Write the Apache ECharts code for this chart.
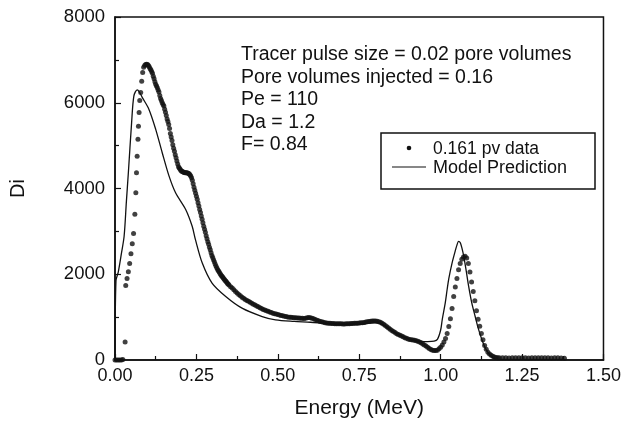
<!DOCTYPE html>
<html>
<head>
<meta charset="utf-8">
<script src="https://cdn.jsdelivr.net/npm/echarts@6/dist/echarts.min.js"></script>
<style>
html,body{margin:0;padding:0;background:#fff;}
#chart{width:624px;height:437px;}
</style>
</head>
<body>
<div id="chart"></div>
<script>
// Measured data (dots): energy (MeV)
const dataEnergy = [
0.000,0.005,0.010,0.015,0.020,0.024,0.031,0.033,0.037,0.041,0.045,0.049,0.053,0.057,0.061,0.064,0.066,0.068,0.0705,0.072,0.074,0.076,0.079,0.082,0.085,0.088,0.091,0.094,0.097,0.100,
0.1025,0.105,0.1075,0.110,0.1125,0.115,0.1175,0.120,0.1225,0.125,0.1275,0.130,0.1325,0.135,0.1375,0.140,0.1425,0.145,0.1475,0.150,
0.1525,0.155,0.1575,0.160,0.1625,0.165,0.1675,0.170,0.1725,0.175,0.1775,0.180,0.1825,0.185,0.1875,0.190,0.1925,0.195,0.1975,0.200,
0.2025,0.205,0.2075,0.210,0.2125,0.215,0.2175,0.220,0.2225,0.225,0.2275,0.230,0.2325,0.235,0.2375,0.240,0.2425,0.245,0.2475,0.250,
0.2525,0.255,0.2575,0.260,0.2625,0.265,0.2675,0.270,0.2725,0.275,0.2775,0.280,0.2825,0.285,0.2875,0.290,0.2925,0.295,0.2975,0.300,
0.3025,0.305,0.3075,0.310,0.3125,0.315,0.3175,0.320,0.3225,0.325,0.3275,0.330,0.3325,0.335,0.3375,0.340,0.3425,0.345,0.3475,0.350,
0.355,0.360,0.365,0.370,0.375,0.380,0.385,0.390,0.395,0.400,0.405,0.410,0.415,0.420,0.425,0.430,0.435,0.440,0.445,0.450,
0.455,0.460,0.465,0.470,0.475,0.480,0.485,0.490,0.495,0.500,0.505,0.510,0.515,0.520,0.525,0.530,0.535,0.540,0.545,0.550,
0.555,0.560,0.565,0.570,0.575,0.580,0.585,0.590,0.595,0.600,0.605,0.610,0.615,0.620,0.625,0.630,0.635,0.640,0.645,0.650,
0.655,0.660,0.665,0.670,0.675,0.680,0.685,0.690,0.695,0.700,0.705,0.710,0.715,0.720,0.725,0.730,0.735,0.740,0.745,0.750,
0.755,0.760,0.765,0.770,0.775,0.780,0.785,0.790,0.795,0.800,0.805,0.810,0.815,0.820,0.825,0.830,0.835,0.840,0.845,0.850,
0.855,0.860,0.865,0.870,0.875,0.880,0.885,0.890,0.895,0.900,0.905,0.910,0.915,0.920,0.925,0.930,0.935,0.940,0.945,0.950,
0.955,0.960,0.965,0.970,0.975,0.980,0.985,0.990,0.995,1.000,1.005,1.010,1.015,1.020,1.025,1.030,1.035,1.040,1.045,1.050,
1.055,1.060,1.065,1.070,1.075,1.080,1.085,1.090,1.095,1.100,1.105,1.110,1.115,1.120,1.125,1.130,1.135,1.140,1.145,1.150,
1.155,1.160,1.165,1.170,1.175,1.180,1.190,1.200,1.210,1.220,1.230,1.240,1.250,1.260,1.270,1.280,1.290,1.300,1.310,1.320,
1.330,1.340,1.350,1.360,1.370,1.380];
// Measured data (dots): Di
const dataDi = [
0,0,0,0,0,10,420,1740,1900,2060,2250,2480,2710,2950,3400,3900,4366,4750,5146,5450,5770,6050,6238,6500,6706,6830,6870,6890,6900,6895,
6870,6840,6800,6770,6730,6690,6620,6560,6490,6430,6390,6350,6300,6250,6170,6100,6050,6000,5960,5926,
5850,5780,5700,5620,5560,5490,5400,5280,5200,5120,5020,4940,4870,4790,4720,4640,4570,4510,4480,4450,
4420,4405,4390,4385,4375,4370,4365,4366,4360,4355,4345,4320,4290,4250,4190,4110,4030,3960,3890,3820,
3750,3670,3590,3510,3440,3360,3280,3200,3120,3050,2980,2900,2830,2760,2700,2630,2570,2500,2440,2390,
2340,2290,2240,2190,2150,2110,2080,2050,2020,1990,1960,1940,1910,1890,1860,1840,1820,1790,1770,1750,
1710,1680,1640,1600,1565,1530,1500,1465,1440,1410,1390,1370,1345,1325,1300,1280,1260,1240,1220,1200,
1180,1165,1150,1135,1120,1105,1090,1080,1070,1060,1050,1040,1030,1020,1012,1005,1000,995,990,988,
985,980,978,975,972,970,975,985,990,985,975,960,945,930,915,900,890,880,870,862,
858,855,852,850,848,846,845,844,843,842,842,843,845,847,850,853,856,858,860,862,
866,870,876,884,892,900,905,910,912,910,905,895,880,860,835,805,775,745,715,690,
665,640,615,595,575,560,540,520,505,490,480,470,465,460,450,440,420,400,375,350,
325,300,270,245,230,220,220,230,260,300,350,420,500,620,780,960,1200,1481,1700,1900,
2105,2250,2350,2400,2417,2380,2250,2050,1820,1600,1380,1150,950,790,620,470,340,250,180,140,
110,85,70,60,55,50,50,50,45,50,50,55,50,50,45,50,50,55,50,50,
50,45,50,50,45,40];

// Model prediction (line)
const modelEnergy = [0.000,0.003,0.010,0.020,0.028,0.035,0.041,0.051,0.058,0.068,0.075,0.084,0.104,0.125,0.145,0.166,0.186,0.217,0.237,0.247,0.268,0.298,0.340,0.390,0.452,0.493,0.550,0.600,0.650,0.700,0.750,0.780,0.800,0.820,0.850,0.880,0.900,0.930,0.960,0.980,0.990,1.000,1.005,1.014,1.020,1.025,1.035,1.045,1.050,1.055,1.060,1.065,1.071,1.078,1.086,1.095,1.106,1.115,1.127,1.137,1.147,1.160,1.170,1.200,1.380];
const modelDi = [0,1850,2050,2500,2885,3700,4366,5536,6160,6300,6250,6120,5850,5380,4835,4288,3900,3510,3118,2807,2260,1794,1481,1209,1014,936,900,880,850,830,830,860,870,830,680,560,500,440,430,440,480,700,950,1326,1650,1900,2261,2550,2680,2767,2740,2620,2417,2100,1715,1350,1014,750,468,280,156,50,20,15,15];

const xTicks = ['0.00','0.25','0.50','0.75','1.00','1.25','1.50'];
const yTicks = ['0','2000','4000','6000','8000'];

const annotation = [
  'Tracer pulse size = 0.02 pore volumes',
  'Pore volumes injected = 0.16',
  'Pe = 110',
  'Da = 1.2',
  'F= 0.84'
];
const seriesNames = ['0.161 pv data', 'Model Prediction'];

const FONT = '"Liberation Sans", Arial, sans-serif';
const chart = echarts.init(document.getElementById('chart'), null, {renderer: 'canvas'});

const dataPairs = dataEnergy.map((e, i) => [e, dataDi[i]]);
const modelPairs = modelEnergy.map((e, i) => [e, modelDi[i]]);

const graphics = [];
annotation.forEach((t, i) => {
  graphics.push({type: 'text', x: 241, y: 55 + i * 22.5,
    style: {text: t, font: '19.5px ' + FONT, fill: '#111', verticalAlign: 'middle', textVerticalAlign: 'middle'}});
});
graphics.push({type: 'rect', shape: {x: 381, y: 133, width: 214, height: 56},
  style: {fill: '#fff', stroke: '#111', lineWidth: 1.5}});
graphics.push({type: 'circle', shape: {cx: 409, cy: 148, r: 2.3}, style: {fill: '#111'}});
graphics.push({type: 'line', shape: {x1: 392, y1: 167, x2: 426, y2: 167}, style: {stroke: '#111', lineWidth: 1.2}});
graphics.push({type: 'text', x: 433, y: 149, style: {text: seriesNames[0], font: '17.5px ' + FONT, fill: '#111', verticalAlign: 'middle', textVerticalAlign: 'middle'}});
graphics.push({type: 'text', x: 433, y: 168, style: {text: seriesNames[1], font: '18px ' + FONT, fill: '#111', verticalAlign: 'middle', textVerticalAlign: 'middle'}});

chart.setOption({
  animation: false,
  backgroundColor: '#fff',
  grid: {left: 115, right: 19, top: 17, bottom: 77, show: true, borderColor: '#111', borderWidth: 1.5, backgroundColor: 'transparent'},
  xAxis: {
    type: 'value', min: 0, max: 1.5, interval: 0.25,
    name: 'Energy (MeV)', nameLocation: 'middle', nameGap: 38,
    nameTextStyle: {fontFamily: FONT, fontSize: 21, color: '#111'},
    axisLine: {lineStyle: {color: '#111', width: 1.5}},
    axisTick: {inside: true, length: 6, lineStyle: {color: '#111', width: 1.2}},
    minorTick: {show: true, splitNumber: 2, length: 4, lineStyle: {color: '#111', width: 1.2}},
    splitLine: {show: false},
    axisLabel: {fontFamily: FONT, fontSize: 18, color: '#111', margin: 7,
      formatter: v => xTicks[Math.round(v / 0.25)]}
  },
  yAxis: {
    type: 'value', min: 0, max: 8000, interval: 2000,
    name: 'Di', nameLocation: 'middle', nameGap: 87, nameRotate: 90,
    nameTextStyle: {fontFamily: FONT, fontSize: 20, color: '#111'},
    axisLine: {lineStyle: {color: '#111', width: 1.5}},
    axisTick: {inside: true, length: 6, lineStyle: {color: '#111', width: 1.2}},
    minorTick: {show: true, splitNumber: 2, length: 4, lineStyle: {color: '#111', width: 1.2}},
    splitLine: {show: false},
    axisLabel: {fontFamily: FONT, fontSize: 18.5, color: '#111', margin: 10,
      formatter: v => yTicks[Math.round(v / 2000)]}
  },
  series: [
    {name: seriesNames[0], type: 'scatter', data: dataPairs, symbol: 'circle', symbolSize: 5,
      itemStyle: {color: '#111'}, z: 3},
    {name: seriesNames[1], type: 'line', data: modelPairs, symbol: 'none', smooth: 0.3,
      lineStyle: {color: '#111', width: 1.3}, z: 2}
  ],
  graphic: graphics
});
</script>
</body>
</html>
